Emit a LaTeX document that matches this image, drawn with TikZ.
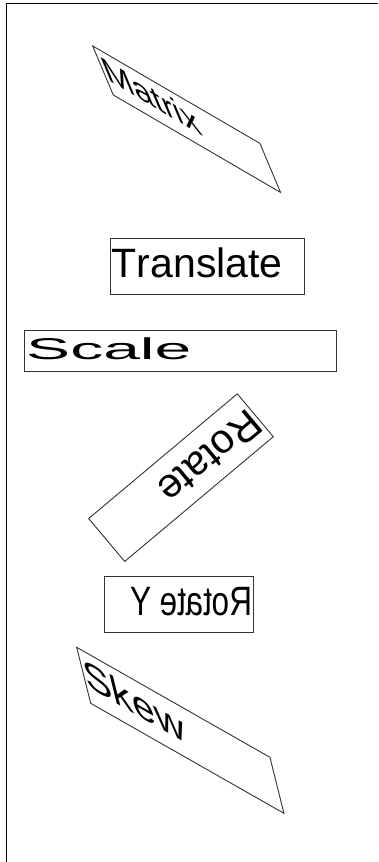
\documentclass[tikz,border=0pt]{standalone}
\usepackage{fontspec}
\setmainfont[Kerning=Off]{Liberation Sans}
\begin{document}
\begin{tikzpicture}[x=1pt,y=1pt,
  frame/.style={draw=black!80,line width=0.9pt},
  lbl/.style={anchor=base west,inner sep=0pt,transform shape,text=black,
    font=\fontsize{41}{49}\selectfont},
  outer/.style={draw=black,line width=1.1pt}]
\useasboundingbox (0,0) rectangle (378,-862);
% outer border (only top and left visible)
\draw[outer] (6.5,-862) -- (6.5,-3.8) -- (378,-3.8);
% Matrix
\begin{scope}[shift={(92.7,-46)},cm={0.862,-0.502,-0.368,0.875,(0,0)}]
  \draw[frame] (0,0) rectangle (194,-56);
  \node[lbl] (matrix) at (1,-39) {Matrix};
\end{scope}
% Translate
\begin{scope}[shift={(110.7,-238.3)}]
  \draw[frame] (0,0) rectangle (194,-56);
  \node[lbl] (translate) at (1,-39) {Translate};
\end{scope}
% Scale
\begin{scope}[shift={(24.3,-330.7)},cm={1.61,0,0,0.733,(0,0)}]
  \draw[frame,line width=1.2pt] (0,0) rectangle (194,-56);
  \node[lbl] (scale) at (1,-39) {Scale};
\end{scope}
% Rotate
\begin{scope}[shift={(273.3,-436.7)},cm={-0.766,-0.643,0.643,-0.766,(0,0)}]
  \draw[frame] (0,0) rectangle (194,-56);
  \node[lbl] (rotate) at (1,-39) {Rotate};
\end{scope}
% Rotate Y
\begin{scope}[shift={(253.3,-576)},cm={-0.766,0,0,1,(0,0)}]
  \draw[frame] (0,0) rectangle (194,-56);
  \node[lbl] (rotatey) at (1,-39) {Rotate Y};
\end{scope}
% Skew
\begin{scope}[shift={(76.7,-647.3)},cm={0.996,-0.567,-0.25,1,(0,0)}]
  \draw[frame] (0,0) rectangle (194,-56);
  \node[lbl] (skew) at (1,-39) {Skew};
\end{scope}
\end{tikzpicture}
\end{document}
